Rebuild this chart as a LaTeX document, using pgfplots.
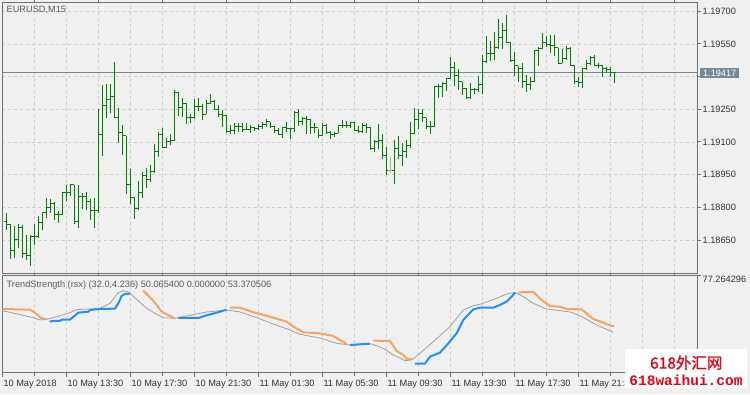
\documentclass[border=0pt]{standalone}
\usepackage{pgfplots}
\pgfplotsset{compat=1.18}
\usepackage{pgfplotstable}
\usepackage{fontspec}
\setmainfont{Liberation Sans}
\newfontfamily\cjkfont[AutoFakeBold=1.2]{Noto Sans CJK SC}
\newfontfamily\wmmono{Liberation Mono}
\definecolor{bgc}{RGB}{240,240,240}
\definecolor{framec}{RGB}{112,112,112}
\definecolor{gridc}{RGB}{205,205,205}
\definecolor{barg}{RGB}{0,128,0}
\definecolor{dojic}{RGB}{170,170,170}
\definecolor{slate}{RGB}{119,136,153}
\definecolor{orng}{RGB}{244,164,96}
\definecolor{blu}{RGB}{30,144,255}
\definecolor{grl}{RGB}{160,160,160}
\definecolor{txtc}{RGB}{50,50,50}
\definecolor{wmred}{RGB}{235,0,20}

\pgfdeclareplotmark{ctick}{\pgfpathmoveto{\pgfpointorigin}\pgfpathlineto{\pgfpoint{\pgfplotmarksize}{0pt}}\pgfusepathqstroke}
\pgfdeclareplotmark{otick}{\pgfpathmoveto{\pgfpointorigin}\pgfpathlineto{\pgfpoint{-\pgfplotmarksize}{0pt}}\pgfusepathqstroke}

\pgfplotstableread{
i O H L C
0 1.18737 1.18773 1.18696 1.18722
1 1.18722 1.18722 1.18564 1.18604
2 1.18604 1.18714 1.18569 1.18653
3 1.18653 1.18722 1.18612 1.18707
4 1.18707 1.18717 1.18569 1.18589
5 1.18589 1.18673 1.18558 1.18578
6 1.18578 1.18673 1.18532 1.18665
7 1.18665 1.18722 1.18627 1.18665
8 1.18665 1.18760 1.18660 1.18730
9 1.18730 1.18776 1.18696 1.18776
10 1.18776 1.18841 1.18750 1.18799
11 1.18799 1.18837 1.18773 1.18817
12 1.18817 1.18825 1.18742 1.18765
13 1.18765 1.18783 1.18727 1.18768
14 1.18768 1.18867 1.18765 1.18867
15 1.18867 1.18903 1.18829 1.18867
16 1.18867 1.18906 1.18852 1.18903
17 1.18903 1.18903 1.18722 1.18737
18 1.18737 1.18903 1.18707 1.18849
19 1.18849 1.18867 1.18791 1.18849
20 1.18849 1.18870 1.18788 1.18826
21 1.18826 1.18837 1.18742 1.18786
22 1.18786 1.18841 1.18707 1.18786
23 1.18786 1.19250 1.18773 1.19135
24 1.19135 1.19362 1.19036 1.19268
25 1.19268 1.19365 1.19212 1.19296
26 1.19296 1.19365 1.19235 1.19308
27 1.19308 1.19467 1.19212 1.19212
28 1.19212 1.19255 1.19094 1.19144
29 1.19144 1.19178 1.19039 1.19128
30 1.19128 1.19128 1.18863 1.18906
31 1.18906 1.18975 1.18814 1.18844
32 1.18844 1.18848 1.18748 1.18794
33 1.18794 1.18921 1.18790 1.18867
34 1.18867 1.18964 1.18841 1.18947
35 1.18947 1.18982 1.18890 1.18929
36 1.18929 1.18994 1.18918 1.18964
37 1.18964 1.19089 1.18959 1.19056
38 1.19056 1.19146 1.19033 1.19135
39 1.19135 1.19163 1.19074 1.19074
40 1.19074 1.19120 1.19071 1.19100
41 1.19100 1.19135 1.19085 1.19108
42 1.19108 1.19339 1.19105 1.19327
43 1.19327 1.19331 1.19219 1.19258
44 1.19258 1.19301 1.19216 1.19276
45 1.19276 1.19278 1.19181 1.19212
46 1.19212 1.19230 1.19189 1.19212
47 1.19212 1.19296 1.19204 1.19262
48 1.19262 1.19301 1.19242 1.19265
49 1.19265 1.19273 1.19200 1.19227
50 1.19227 1.19293 1.19227 1.19278
51 1.19278 1.19319 1.19276 1.19284
52 1.19284 1.19293 1.19250 1.19250
53 1.19250 1.19268 1.19216 1.19227
54 1.19227 1.19247 1.19169 1.19222
55 1.19222 1.19222 1.19140 1.19146
56 1.19146 1.19177 1.19135 1.19151
57 1.19151 1.19186 1.19135 1.19170
58 1.19170 1.19189 1.19147 1.19169
59 1.19169 1.19189 1.19147 1.19158
60 1.19158 1.19189 1.19155 1.19158
61 1.19158 1.19177 1.19140 1.19166
62 1.19166 1.19170 1.19151 1.19163
63 1.19163 1.19181 1.19155 1.19173
64 1.19173 1.19192 1.19161 1.19181
65 1.19181 1.19207 1.19170 1.19192
66 1.19192 1.19192 1.19166 1.19169
67 1.19169 1.19173 1.19143 1.19155
68 1.19155 1.19166 1.19135 1.19135
69 1.19135 1.19170 1.19120 1.19166
70 1.19166 1.19192 1.19146 1.19163
71 1.19163 1.19166 1.19112 1.19163
72 1.19163 1.19242 1.19146 1.19235
73 1.19235 1.19250 1.19173 1.19196
74 1.19196 1.19216 1.19177 1.19209
75 1.19209 1.19219 1.19135 1.19204
76 1.19204 1.19207 1.19135 1.19166
77 1.19166 1.19189 1.19143 1.19166
78 1.19166 1.19160 1.19120 1.19131
79 1.19131 1.19186 1.19128 1.19177
80 1.19177 1.19181 1.19135 1.19143
81 1.19143 1.19151 1.19112 1.19135
82 1.19135 1.19147 1.19125 1.19140
83 1.19140 1.19177 1.19140 1.19177
84 1.19177 1.19200 1.19166 1.19177
85 1.19177 1.19196 1.19166 1.19177
86 1.19177 1.19192 1.19166 1.19189
87 1.19189 1.19192 1.19151 1.19154
88 1.19154 1.19173 1.19140 1.19146
89 1.19146 1.19186 1.19143 1.19177
90 1.19177 1.19186 1.19143 1.19166
91 1.19166 1.19170 1.19063 1.19069
92 1.19069 1.19109 1.19056 1.19100
93 1.19100 1.19181 1.19066 1.19105
94 1.19105 1.19135 1.19020 1.19039
95 1.19039 1.19077 1.18947 1.18970
97 1.18970 1.19108 1.18909 1.19069
98 1.19069 1.19128 1.19020 1.19040
99 1.19040 1.19097 1.18990 1.19056
100 1.19056 1.19109 1.19028 1.19085
101 1.19085 1.19192 1.19071 1.19140
102 1.19140 1.19255 1.19135 1.19201
103 1.19201 1.19253 1.19161 1.19232
104 1.19232 1.19253 1.19192 1.19212
105 1.19212 1.19212 1.19161 1.19173
106 1.19173 1.19196 1.19135 1.19173
107 1.19173 1.19357 1.19170 1.19354
108 1.19354 1.19365 1.19304 1.19357
109 1.19357 1.19376 1.19307 1.19369
110 1.19369 1.19392 1.19334 1.19392
111 1.19392 1.19490 1.19390 1.19441
112 1.19441 1.19467 1.19357 1.19406
113 1.19406 1.19434 1.19337 1.19376
114 1.19376 1.19376 1.19314 1.19345
115 1.19345 1.19346 1.19299 1.19304
116 1.19304 1.19372 1.19299 1.19342
117 1.19342 1.19350 1.19319 1.19339
118 1.19339 1.19403 1.19330 1.19362
119 1.19362 1.19499 1.19319 1.19469
120 1.19469 1.19587 1.19461 1.19507
121 1.19507 1.19564 1.19472 1.19507
122 1.19507 1.19605 1.19477 1.19533
123 1.19533 1.19665 1.19526 1.19579
124 1.19579 1.19645 1.19529 1.19613
125 1.19613 1.19683 1.19559 1.19559
126 1.19559 1.19559 1.19467 1.19472
127 1.19472 1.19515 1.19403 1.19449
128 1.19449 1.19449 1.19376 1.19437
129 1.19437 1.19464 1.19346 1.19380
130 1.19380 1.19406 1.19331 1.19365
131 1.19365 1.19400 1.19339 1.19380
132 1.19380 1.19518 1.19376 1.19518
133 1.19518 1.19536 1.19449 1.19529
134 1.19529 1.19599 1.19529 1.19556
135 1.19556 1.19587 1.19538 1.19548
136 1.19548 1.19591 1.19507 1.19545
137 1.19545 1.19591 1.19495 1.19533
138 1.19533 1.19533 1.19461 1.19461
139 1.19461 1.19526 1.19461 1.19483
140 1.19483 1.19541 1.19477 1.19529
141 1.19529 1.19536 1.19449 1.19449
142 1.19449 1.19452 1.19365 1.19376
143 1.19376 1.19400 1.19354 1.19372
144 1.19372 1.19438 1.19350 1.19438
145 1.19438 1.19477 1.19431 1.19461
146 1.19461 1.19495 1.19452 1.19487
147 1.19487 1.19498 1.19449 1.19452
148 1.19452 1.19464 1.19441 1.19449
149 1.19449 1.19454 1.19400 1.19437
150 1.19437 1.19446 1.19415 1.19434
151 1.19434 1.19446 1.19400 1.19421
152 1.19421 1.19423 1.19372 1.19417
}\bars

\pgfplotstableread{
i O H L C
96 1.18970 1.19033 1.18959 1.18970
}\doji

\begin{document}
\begin{tikzpicture}[x=1pt,y=1pt,font=\fontsize{9.2}{11}\selectfont]
\fill[bgc] (0,0) rectangle (750,394);

\pgfplotsset{
  mtaxis/.style={
    scale only axis, anchor=south west,
    width=694.7pt,
    xmin=-1, xmax=172.67,
    axis background/.style={fill=bgc},
    axis line style={draw=framec, line width=1pt},
    xtick={-1,15,...,159},
    minor xtick={7,23,...,167},
    xmajorgrids, xminorgrids,
    major grid style={draw=gridc, line width=0.8pt, dash pattern=on 3pt off 3pt},
    minor grid style={draw=gridc, line width=0.8pt, dash pattern=on 3pt off 3pt},
    xminorticks=false,
    tick align=outside,
    major tick length=4pt,
    tick style={draw=framec, line width=1pt},
    ytick pos=right,
    yticklabel pos=right,
    ticklabel style={font=\fontsize{9.2}{11}\selectfont, text=txtc},
    /pgf/number format/assume math mode=true,
    clip=true,
  }
}

% ---------------- main price panel ----------------
\begin{axis}[mtaxis,
  at={(2.3pt,120.7pt)}, height=270.6pt,
  ymin=1.184971, ymax=1.197396,
  xmajorticks=false, xticklabels={},
  ytick={1.1865,1.188,1.1895,1.191,1.1925,1.194,1.1955,1.197},
  yticklabels={1.18650,1.18800,1.18950,1.19100,1.19250,,1.19550,1.19700},
  ymajorgrids,
  yticklabel style={anchor=west, inner sep=0pt, xshift=1.5pt},
]
\addplot[slate, line width=1pt, forget plot] coordinates {(-1,1.19417) (172.67,1.19417)};
\addplot[barg, only marks, mark=ctick, mark size=2pt,
  mark options={draw=barg, line width=1pt},
  error bars/.cd, y dir=both, y explicit, error mark=none,
  error bar style={color=barg, line width=1pt}]
  table[x=i, y=C, y error plus expr=\thisrow{H}-\thisrow{C}, y error minus expr=\thisrow{C}-\thisrow{L}] {\bars};
\addplot[barg, only marks, mark=otick, mark size=2pt,
  mark options={draw=barg, line width=1pt}]
  table[x=i, y=O] {\bars};
\addplot[dojic, only marks, mark=ctick, mark size=2pt,
  mark options={draw=dojic, line width=1pt},
  error bars/.cd, y dir=both, y explicit, error mark=none,
  error bar style={color=dojic, line width=1pt}]
  table[x=i, y=C, y error plus expr=\thisrow{H}-\thisrow{C}, y error minus expr=\thisrow{C}-\thisrow{L}] {\doji};
\addplot[dojic, only marks, mark=otick, mark size=2pt,
  mark options={draw=dojic, line width=1pt}]
  table[x=i, y=O] {\doji};
\end{axis}

% ---------------- indicator panel ----------------
\begin{axis}[mtaxis,
  at={(2.3pt,21.3pt)}, height=97.4pt,
  ymin=31.35, ymax=77.264296,
  ytick={77.264296}, yticklabels={77.264296},
  yticklabel style={anchor=north west, inner sep=0pt, xshift=1.5pt, yshift=-1pt},
  xtick pos=lower,
  xticklabels={10 May 2018,10 May 13:30,10 May 17:30,10 May 21:30,11 May 01:30,11 May 05:30,11 May 09:30,11 May 13:30,11 May 17:30,11 May 21:30,},
  xticklabel style={anchor=north west, inner sep=0pt, xshift=1pt, yshift=-3pt},
  unbounded coords=jump,
]
\addplot[grl, line width=0.8pt] coordinates {
(-1,60.60) (6.75,57.30) (8.42,56.20) (10.08,56.51) (15.08,59.03) (17.58,61.07) (23.42,61.70) (25.92,64.05) (28.0,69.08) (29.25,70.02) (30.5,69.39) (32.58,65.94) (35.08,61.70) (37.58,58.87) (39.25,57.30) (42.17,56.98) (45.92,58.40) (50.08,59.97) (55.08,60.91) (58.42,60.0) (62.58,57.30) (66.75,54.31) (70.92,51.48) (73.42,49.44) (78.42,47.71) (82.58,45.20) (85.92,44.41) (91.33,44.89) (94.25,42.84) (96.75,39.70) (99.67,37.03) (101.33,37.35) (103.42,40.49) (106.75,45.99) (110.92,53.06) (114.25,60.91) (116.75,62.95) (118.42,63.58) (122.58,66.41) (125.08,68.45) (127.17,69.24) (129.25,67.19) (131.75,64.05) (135.08,61.38) (138.42,60.60) (140.92,59.97) (143.42,58.24) (147.58,53.84) (151.75,50.38)
};
\addplot[orng, line width=2pt] coordinates {
(-1,61.38) (5.92,61.07) (7.17,59.65) (8.83,56.98) (10.08,56.51)
(10.5,nan)
(34.25,70.02) (36.75,65.31) (38.83,60.12) (40.08,58.87) (42.17,56.98)
(43,nan)
(55.92,62.01) (58.42,62.01) (61.75,59.81) (65.92,57.77) (70.08,55.41) (71.75,53.06) (74.25,50.39) (78.42,49.91) (81.75,48.66) (83.42,46.77) (85.08,44.89)
(86,nan)
(91.75,46.46) (95.92,46.30) (97.58,41.59) (99.25,39.70) (100.08,37.82) (101.33,37.82)
(102,nan)
(128.0,69.24) (131.75,69.39) (133.83,65.62) (135.92,62.79) (138.42,62.48) (140.08,61.38) (143.83,61.22) (146.75,56.67) (149.25,54.94) (151.33,53.37) (152,53.37)
};
\addplot[blu, line width=2pt] coordinates {
(10.92,55.27) (11.33,55.73) (13.42,55.73) (13.83,56.35) (15.92,56.35) (18.0,59.65) (20.5,60.12) (20.92,60.91) (23.42,61.38) (27.17,61.54) (28.0,64.05) (28.83,67.51) (29.67,68.45) (30.92,68.61)
(32,nan)
(43.0,57.14) (48.0,57.14) (50.08,58.40) (52.58,59.65) (55.08,61.07)
(55.5,nan)
(85.92,44.41) (90.92,45.04)
(91.3,nan)
(102.17,35.61) (104.67,35.61) (105.92,38.92) (108.42,40.80) (110.5,45.20) (112.58,49.91) (114.25,56.20) (116.75,61.22) (118.42,62.01) (121.75,62.01) (123.42,63.27) (125.08,64.84) (126.33,67.19) (127.17,69.08)
};
\end{axis}

% ---------------- labels ----------------
\node[anchor=west, inner sep=0pt, text=txtc!80!white] at (6.5,384.5) {EURUSD,M15};
\node[anchor=west, inner sep=0pt, text=txtc!80!white] at (6.5,109) {TrendStrength (rsx) (32.0,4.236) 50.065400 0.000000 53.370506};

% current price tag
\fill[slate] (700,315.7) rectangle (739.3,325.7);
\node[text=white, inner sep=0pt] at (719.7,320.7) {1.19417};

% watermark
\fill[white] (625,5.7) rectangle (746.7,45);
\node[text=wmred, inner sep=0pt, font=\cjkfont\bfseries\fontsize{15.5}{15.5}\selectfont] at (686.3,31.3) {618外汇网};
\node[text=wmred, inner sep=0pt, font=\wmmono\bfseries\fontsize{14.5}{14.5}\selectfont] at (686,13.3) {618waihui.com};

\pgfresetboundingbox
\path[use as bounding box] (0,0) rectangle (750,394);
\end{tikzpicture}
\end{document}
